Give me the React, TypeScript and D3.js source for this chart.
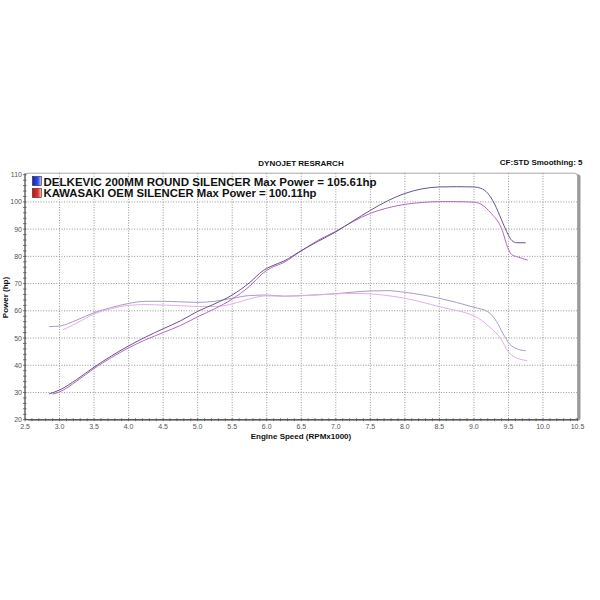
import React from "react";
import * as d3 from "d3";

const delkPowerRpm = [2.85, 3.0, 3.25, 3.5, 3.75, 4.0, 4.25, 4.5, 4.75, 5.0, 5.25, 5.5, 5.75, 5.95, 6.05, 6.25, 6.5, 6.75, 7.0, 7.25, 7.5, 7.75, 8.0, 8.25, 8.5, 8.75, 9.0, 9.1, 9.2, 9.3, 9.4, 9.5, 9.55, 9.62, 9.75];
const delkPowerHp = [29.5, 30.9, 34.8, 39.3, 43.4, 47.1, 50.4, 53.4, 56.3, 59.8, 62.6, 65.8, 70.3, 74.8, 76.2, 78.3, 82.1, 85.6, 89.0, 93.0, 96.9, 100.4, 103.1, 104.8, 105.5, 105.6, 105.5, 105.0, 103.2, 99.2, 93.4, 87.8, 85.8, 85.0, 85.0];

const kawPowerRpm = [2.9, 3.0, 3.25, 3.5, 3.75, 4.0, 4.25, 4.5, 4.75, 5.0, 5.25, 5.5, 5.75, 5.95, 6.05, 6.25, 6.5, 6.75, 7.0, 7.25, 7.5, 7.75, 8.0, 8.25, 8.5, 8.75, 9.0, 9.1, 9.25, 9.4, 9.5, 9.55, 9.62, 9.78];
const kawPowerHp = [29.4, 30.2, 34.2, 38.8, 42.8, 46.4, 49.4, 52.0, 54.6, 57.8, 60.8, 64.3, 69.0, 73.9, 75.6, 77.8, 82.0, 86.0, 89.2, 92.8, 95.8, 97.8, 99.1, 99.8, 100.1, 100.1, 99.9, 99.2, 95.8, 90.3, 82.6, 80.6, 79.9, 78.6];

const delkTorqueRpm = [2.85, 3.0, 3.25, 3.5, 3.75, 4.0, 4.25, 4.5, 4.75, 5.0, 5.25, 5.5, 5.75, 6.0, 6.25, 6.5, 7.0, 7.5, 7.75, 8.0, 8.5, 9.0, 9.2, 9.33, 9.42, 9.52, 9.61, 9.75];
const delkTorqueHp = [54.2, 54.4, 56.6, 59.3, 61.2, 62.7, 63.5, 63.5, 63.3, 63.1, 63.5, 64.6, 65.6, 65.8, 65.4, 65.6, 66.3, 67.3, 67.4, 66.8, 64.6, 61.3, 59.7, 56.0, 51.7, 47.7, 46.2, 45.3];

const kawTorqueRpm = [3.05, 3.25, 3.5, 3.75, 4.0, 4.25, 4.5, 4.75, 5.0, 5.25, 5.5, 5.75, 6.0, 6.25, 6.5, 7.0, 7.25, 7.5, 8.0, 8.5, 9.0, 9.07, 9.22, 9.4, 9.49, 9.56, 9.77];
const kawTorqueHp = [53.0, 55.5, 58.8, 60.8, 62.0, 62.3, 62.1, 61.9, 61.6, 61.6, 62.5, 64.4, 65.5, 65.3, 65.5, 66.2, 66.4, 66.2, 64.6, 61.5, 58.1, 57.2, 54.2, 49.3, 45.2, 43.4, 41.7];

const xTicks = [2.5, 3.0, 3.5, 4.0, 4.5, 5.0, 5.5, 6.0, 6.5, 7.0, 7.5, 8.0, 8.5, 9.0, 9.5, 10.0, 10.5];
const yTicks = [20, 30, 40, 50, 60, 70, 80, 90, 100, 110];

const legendLabels = [
  "DELKEVIC 200MM ROUND SILENCER Max Power = 105.61hp",
  "KAWASAKI OEM SILENCER Max Power = 100.11hp",
];

const FONT = "'Liberation Sans', Arial, Helvetica, sans-serif";

export default function App() {
  const x = d3.scaleLinear().domain([2.5, 10.5]).range([25, 577.5]);
  const y = d3.scaleLinear().domain([20, 110]).range([419.7, 174.7]);

  const line = d3
    .line<[number, number]>()
    .x((d) => x(d[0]))
    .y((d) => y(d[1]))
    .curve(d3.curveMonotoneX);

  const zip = (a: number[], b: number[]) => a.map((v, i) => [v, b[i]] as [number, number]);

  const series = [
    { d: zip(delkTorqueRpm, delkTorqueHp), c: "#a89ac6" },
    { d: zip(kawTorqueRpm, kawTorqueHp), c: "#e2b0ea" },
    { d: zip(kawPowerRpm, kawPowerHp), c: "#b468c6" },
    { d: zip(delkPowerRpm, delkPowerHp), c: "#64568e" },
  ];

  const minorX = d3.range(25, 106).map((v) => v / 10);
  const minorY = d3.range(20, 111, 2);

  const left = x(2.5);
  const right = x(10.5);
  const top = y(110) - 1.5;
  const bottom = y(20);

  return (
    <svg
      width={600}
      height={600}
      style={{ position: "absolute", left: 0, top: 0, background: "#fff" }}
      fontFamily={FONT}
    >
      <defs>
        <linearGradient id="gBlue" x1="0" x2="1" y1="0" y2="0">
          <stop offset="0" stopColor="#1020c0" />
          <stop offset="0.6" stopColor="#3050e0" />
          <stop offset="1" stopColor="#c8d0ff" />
        </linearGradient>
        <linearGradient id="gRed" x1="0" x2="1" y1="0" y2="0">
          <stop offset="0" stopColor="#c01010" />
          <stop offset="0.6" stopColor="#e03030" />
          <stop offset="1" stopColor="#ffc8c8" />
        </linearGradient>
      </defs>
      <rect width={600} height={600} fill="#fff" />

      {/* titles */}
      <text x={301} y={165.5} fontSize={8} fontWeight="bold" textAnchor="middle" fill="#111">
        DYNOJET RESRARCH
      </text>
      <text x={582.5} y={165} fontSize={8} fontWeight="bold" textAnchor="end" fill="#111">
        CF:STD Smoothing: 5
      </text>

      {/* frame shadow and border */}
      <rect x={left + 2} y={top + 1} width={right - left + 1} height={bottom - top} rx={3} fill="#9a9a9a" />
      <rect x={left} y={top} width={right - left} height={bottom - top} rx={3} fill="#fff" stroke="#aaa" strokeWidth={1} />

      {/* grid */}
      {xTicks.slice(1, -1).map((t) => (
        <line key={"gx" + t} x1={x(t)} x2={x(t)} y1={top} y2={bottom} stroke="#8a8a8a" strokeWidth={0.9} strokeDasharray="1 1.6" />
      ))}
      {yTicks.slice(1, -1).map((t) => (
        <line key={"gy" + t} x1={left} x2={right} y1={y(t)} y2={y(t)} stroke="#8a8a8a" strokeWidth={0.9} strokeDasharray="1 1.6" />
      ))}

      {/* axes */}
      <line x1={left} x2={left} y1={top} y2={bottom} stroke="#444" strokeWidth={1} />
      <line x1={left} x2={right} y1={bottom} y2={bottom} stroke="#444" strokeWidth={1} />
      {minorX.map((t) => (
        <line key={"mx" + t} x1={x(t)} x2={x(t)} y1={bottom - 1.5} y2={bottom + 1.5} stroke="#555" strokeWidth={0.8} />
      ))}
      {minorY.map((t) => (
        <line key={"my" + t} x1={left - 2} x2={left + 1.5} y1={y(t)} y2={y(t)} stroke="#555" strokeWidth={0.8} />
      ))}
      {xTicks.map((t) => (
        <text key={"tx" + t} x={x(t)} y={429} fontSize={7} textAnchor="middle" fill="#555">
          {t.toFixed(1)}
        </text>
      ))}
      {yTicks.map((t) => (
        <text key={"ty" + t} x={left - 3} y={y(t) + 2.5} fontSize={7} textAnchor="end" fill="#555">
          {t}
        </text>
      ))}

      {/* axis titles */}
      <text x={301} y={438.5} fontSize={8} fontWeight="bold" textAnchor="middle" fill="#111">
        Engine Speed (RPMx1000)
      </text>
      <text
        transform={`translate(7.5,297.5) rotate(-90)`}
        fontSize={8}
        fontWeight="bold"
        textAnchor="middle"
        fill="#111"
      >
        Power (hp)
      </text>

      {/* curves */}
      {series.map((s, i) => (
        <path key={"s" + i} d={line(s.d) || ""} fill="none" stroke={s.c} strokeWidth={1} />
      ))}

      {/* legend */}
      <rect x={32.5} y={176.5} width={9} height={9} fill="url(#gBlue)" stroke="#223" strokeWidth={0.6} />
      <rect x={32.5} y={188.5} width={9} height={9} fill="url(#gRed)" stroke="#322" strokeWidth={0.6} />
      <text x={43.5} y={185.6} fontSize={10.5} fontWeight="bold" fill="#111" textLength={333} lengthAdjust="spacingAndGlyphs">
        {legendLabels[0]}
      </text>
      <text x={43.5} y={197.1} fontSize={10.5} fontWeight="bold" fill="#111" textLength={273} lengthAdjust="spacingAndGlyphs">
        {legendLabels[1]}
      </text>
    </svg>
  );
}
